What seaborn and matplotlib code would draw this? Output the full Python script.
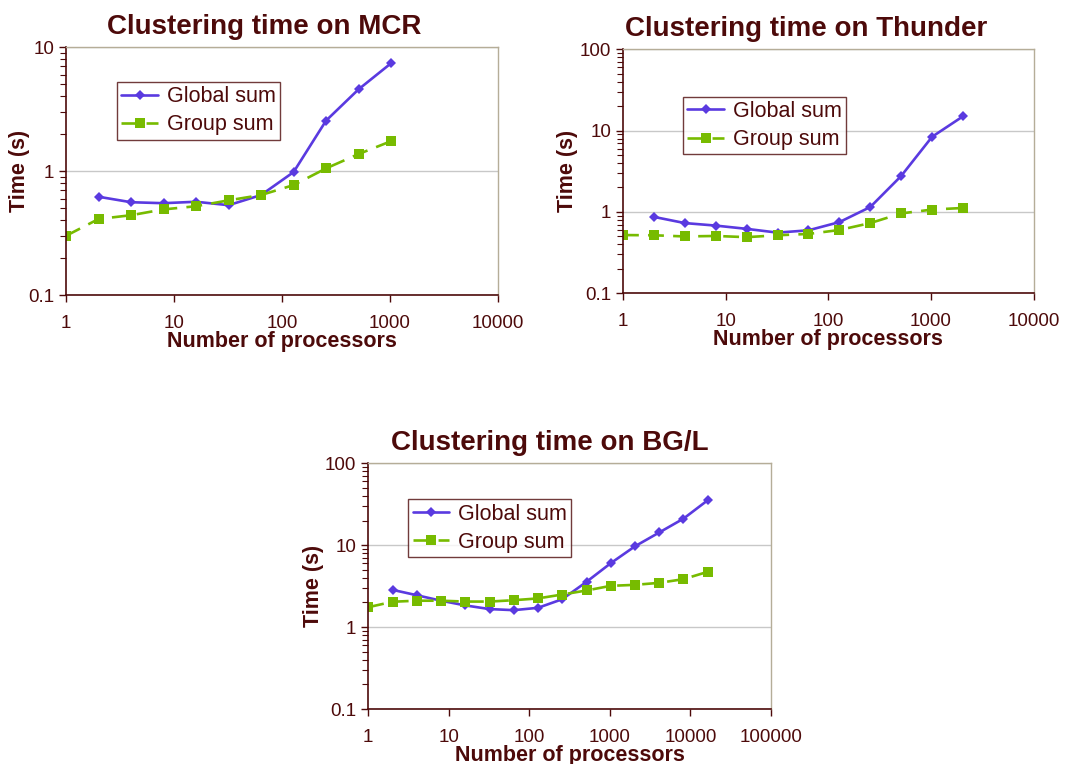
import numpy as np
import pandas as pd
import matplotlib
matplotlib.use("Agg")
import matplotlib.pyplot as plt
import matplotlib.ticker as mticker
import seaborn as sns

# ---- data ----
mcr_global_x = [2, 4, 8, 16, 32, 64, 128, 256, 512, 1024]
mcr_global_y = [0.62, 0.56, 0.55, 0.565, 0.53, 0.64, 0.98, 2.55, 4.56, 7.4]
mcr_group_x = [1, 2, 4, 8, 16, 32, 64, 128, 256, 512, 1024]
mcr_group_y = [0.30, 0.41, 0.44, 0.49, 0.52, 0.58, 0.64, 0.77, 1.05, 1.37, 1.74]

thu_global_x = [2, 4, 8, 16, 32, 64, 128, 256, 512, 1024, 2048]
thu_global_y = [0.87, 0.73, 0.68, 0.62, 0.557, 0.595, 0.75, 1.15, 2.77, 8.4, 15.0]
thu_group_x = [1, 2, 4, 8, 16, 32, 64, 128, 256, 512, 1024, 2048]
thu_group_y = [0.52, 0.517, 0.50, 0.507, 0.49, 0.517, 0.537, 0.60, 0.73, 0.96, 1.07, 1.12]

bgl_global_x = [2, 4, 8, 16, 32, 64, 128, 256, 512, 1024, 2048, 4096, 8192, 16384]
bgl_global_y = [2.85, 2.45, 2.1, 1.84, 1.66, 1.61, 1.72, 2.19, 3.57, 6.03, 9.7, 14.3, 21.1, 35.4]
bgl_group_x = [1, 2, 4, 8, 16, 32, 64, 128, 256, 512, 1024, 2048, 4096, 8192, 16384]
bgl_group_y = [1.75, 2.04, 2.1, 2.1, 2.05, 2.05, 2.13, 2.24, 2.5, 2.8, 3.19, 3.28, 3.47, 3.85, 4.73]

series_names = ["Global sum", "Group sum"]
titles = ["Clustering time on MCR", "Clustering time on Thunder", "Clustering time on BG/L"]
x_label = "Number of processors"
y_label = "Time (s)"

# ---- style ----
sns.set_style("white")
plt.rcParams["font.family"] = ["Liberation Sans", "DejaVu Sans"]

TXT = "#4d0a0a"
C_GLOBAL = "#5a3ae0"
C_GROUP = "#77bb00"
SPINE_LIGHT = "#b5ad98"

fig = plt.figure(figsize=(10.75, 7.64), dpi=100)

panels = [
    dict(rect=[66/1075, 1-295/764, 432/1075, 248/764], title=titles[0],
         gx=mcr_global_x, gy=mcr_global_y, qx=mcr_group_x, qy=mcr_group_y,
         xlim=(1, 10000), ylim=(0.1, 10),
         leg=(117/1075, 1-82/764), ylab_x=20, title_x=264.5),
    dict(rect=[623/1075, 1-293.3/764, 410.7/1075, 244/764], title=titles[1],
         gx=thu_global_x, gy=thu_global_y, qx=thu_group_x, qy=thu_group_y,
         xlim=(1, 10000), ylim=(0.1, 100),
         leg=(683/1075, 1-96.7/764), ylab_x=567, title_x=806),
    dict(rect=[368.3/1075, 1-709/764, 402.7/1075, 245.7/764], title=titles[2],
         gx=bgl_global_x, gy=bgl_global_y, qx=bgl_group_x, qy=bgl_group_y,
         xlim=(1, 100000), ylim=(0.1, 100),
         leg=(408.3/1075, 1-499.3/764), ylab_x=313, title_x=550),
]

for p in panels:
    ax = fig.add_axes(p["rect"])
    df = pd.concat([
        pd.DataFrame({"x": p["gx"], "y": p["gy"], "s": series_names[0]}),
        pd.DataFrame({"x": p["qx"], "y": p["qy"], "s": series_names[1]}),
    ])
    sns.lineplot(data=df[df.s == series_names[0]], x="x", y="y", ax=ax,
                 color=C_GLOBAL, marker="D", markersize=5.5, markeredgewidth=0,
                 linewidth=1.9, label=series_names[0])
    sns.lineplot(data=df[df.s == series_names[1]], x="x", y="y", ax=ax,
                 color=C_GROUP, marker="s", markersize=7.5, markeredgewidth=0,
                 linewidth=1.9, dashes=(6, 3.5), label=series_names[1])
    ax.set_xscale("log")
    ax.set_yscale("log")
    ax.set_xlim(*p["xlim"])
    ax.set_ylim(*p["ylim"])
    ax.xaxis.set_major_locator(mticker.LogLocator(base=10, numticks=10))
    ax.xaxis.set_minor_locator(mticker.NullLocator())
    ax.xaxis.set_major_formatter(mticker.FuncFormatter(lambda v, _: f"{v:g}"))
    ax.yaxis.set_major_locator(mticker.LogLocator(base=10, numticks=10))
    ax.yaxis.set_minor_locator(mticker.LogLocator(base=10, subs=np.arange(2, 10), numticks=10))
    ax.yaxis.set_major_formatter(mticker.FuncFormatter(lambda v, _: f"{v:g}"))
    ax.yaxis.set_minor_formatter(mticker.NullFormatter())

    ax.grid(False)
    ax.yaxis.grid(True, which="major", color="#c8c8c8", linewidth=1.0)
    ax.set_axisbelow(True)

    for side in ["left", "bottom"]:
        ax.spines[side].set_color(TXT)
        ax.spines[side].set_linewidth(1.2)
    for side in ["top", "right"]:
        ax.spines[side].set_color(SPINE_LIGHT)
        ax.spines[side].set_linewidth(1.0)

    ax.tick_params(axis="both", which="major", direction="out", length=5, width=1.0,
                   color=TXT, labelcolor=TXT, labelsize=13.5)
    ax.tick_params(axis="y", which="major", pad=3.5)
    ax.tick_params(axis="x", which="major", pad=9.5)
    ax.tick_params(axis="y", which="minor", direction="out", length=4, width=0.8, color=TXT)
    ax.tick_params(axis="y", which="both", left=True)
    ax.tick_params(axis="x", which="major", bottom=True)

    bb = p["rect"]
    tx = (p["title_x"] / 1075 - bb[0]) / bb[2]
    ax.set_title(p["title"], fontsize=20, fontweight="bold", color=TXT, pad=9.5, x=tx)
    ax.set_xlabel(x_label, fontsize=15.5, fontweight="bold", color=TXT, labelpad=-1)
    ax.set_ylabel(y_label, fontsize=15.5, fontweight="bold", color=TXT)
    # place y label centre at a fixed pixel column
    x_axes = (p["ylab_x"] / 1075 - bb[0]) / bb[2]
    ax.yaxis.set_label_coords(x_axes, 0.5)
    ax.yaxis.label.set_verticalalignment("center")

    leg = ax.legend(loc="upper left", bbox_to_anchor=p["leg"], bbox_transform=fig.transFigure,
                    fontsize=15.5, frameon=True, fancybox=False, handlelength=1.7,
                    handletextpad=0.4, borderpad=0.2, labelspacing=0.33,
                    borderaxespad=0)
    leg.get_frame().set_edgecolor(TXT)
    leg.get_frame().set_linewidth(1.0)
    for t in leg.get_texts():
        t.set_color(TXT)

fig.savefig("out.png", dpi=100)
